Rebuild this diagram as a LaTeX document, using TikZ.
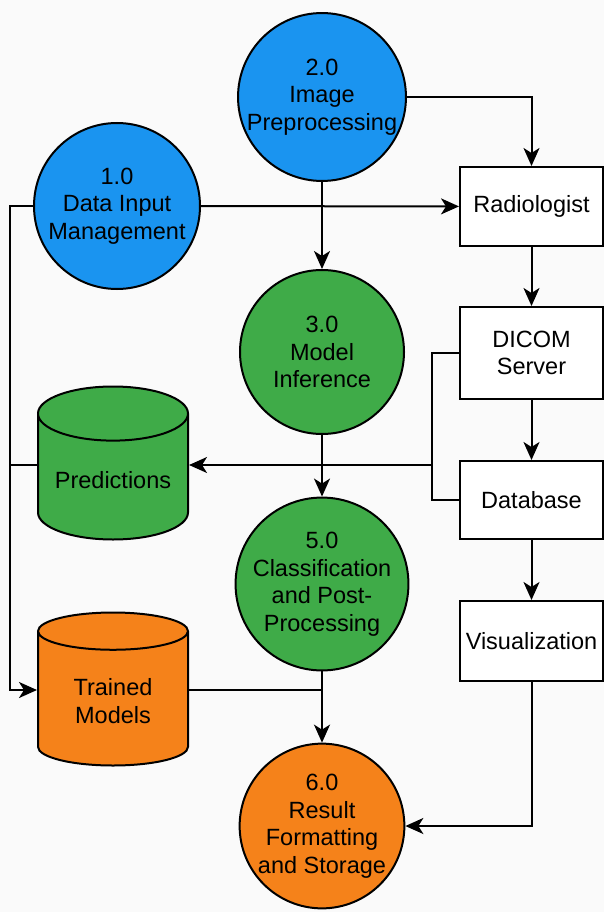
\documentclass[tikz,border=0pt]{standalone}
\usepackage{fontspec}
\setmainfont{Liberation Sans}
\usetikzlibrary{arrows.meta,shapes.geometric}
\definecolor{procblue}{HTML}{1A94F0}
\definecolor{procgreen}{HTML}{3FAB48}
\definecolor{procorange}{HTML}{F5821A}
\definecolor{paper}{HTML}{FAFAFA}
\begin{document}
\begin{tikzpicture}[x=1pt,y=-1pt,line width=2pt,font=\fontsize{23.5}{27.5}\selectfont,
  proc/.style={circle,draw,minimum size=166pt,inner sep=0pt,align=center},
  store/.style={cylinder,shape border rotate=90,draw,aspect=.45,minimum width=150pt,minimum height=153pt,inner sep=2pt,align=center,anchor=shape center},
  ent/.style={rectangle,draw,fill=white,minimum width=143pt,align=center},
  flow/.style={-{Stealth[length=18pt,width=16pt,inset=5pt]}}]
\fill[paper] (0,0) rectangle (604,912);
\useasboundingbox (0,0) rectangle (604,912);
% processes
\node[proc,fill=procblue] (p2) at (322,97){2.0\\Image\\Preprocessing};
\node[proc,fill=procblue] (p1) at (117,206){1.0\\Data Input\\Management};
\node[proc,fill=procgreen,minimum size=164pt] (p3) at (322,352){3.0\\Model\\Inference};
\node[proc,fill=procgreen,minimum size=164pt] (p5) at (322,584){5.0\\Classification\\and Post-\\Processing};
\node[proc,fill=procorange,minimum size=164pt] (p6) at (322,826){6.0\\Result\\Formatting\\and Storage};
% stores
\node[store,fill=procgreen] (pred) at (113,463){Predictions};
\node[store,fill=procorange] (tm) at (113,689){Trained\\Models};
% entities
\node[ent,minimum height=79pt] (rad) at (531.5,206.5){Radiologist};
\node[ent,minimum height=92pt] (dicom) at (531.5,353){DICOM\\Server};
\node[ent,minimum height=78pt] (db) at (531.5,500){Database};
\node[ent,minimum height=80pt] (vis) at (531.5,641){Visualization};
% flows
\coordinate (busT) at (10,206);
\coordinate (busB) at (10,690);
\coordinate (tap) at (432,465);
\draw[flow] (p1.west) -- (busT) -- (busB) -- (busB -| tm.west);
\draw (busT |- tap) -- (tap -| pred.west);
\draw[flow] (p1) -- (rad);
\draw[flow] (p2.east) -| (rad.north);
\draw[flow] (p2) -- (p3);
\draw[flow] (rad) -- (dicom);
\draw[flow] (dicom) -- (db);
\draw[flow] (db) -- (vis);
\draw (dicom.west) -- (tap |- dicom.west) -- (tap |- db.west) -- (db.west);
\draw[flow] (tap) -- (tap -| pred.east);
\draw[flow] (p3) -- (p5);
\draw[flow] (p5) -- (p6);
\draw (tm.east |- busB) -- (busB -| p5.south);
\draw[flow] (vis.south) |- (p6.east);
\end{tikzpicture}
\end{document}
